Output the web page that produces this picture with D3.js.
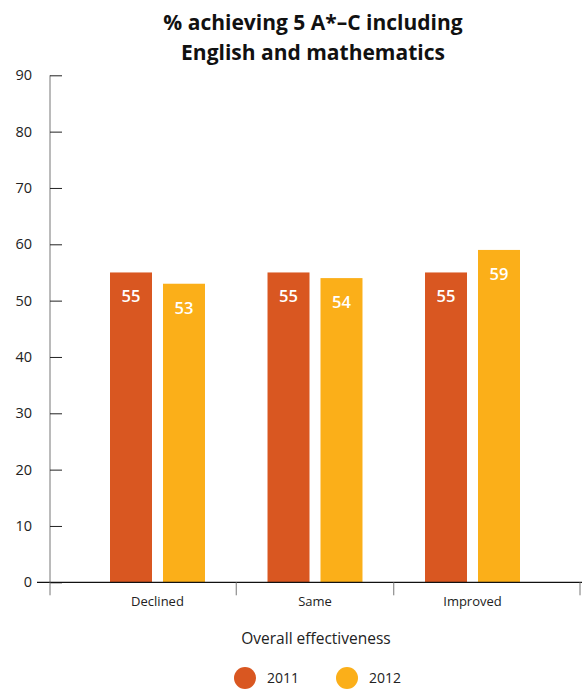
<!DOCTYPE html>
<html><head><meta charset="utf-8">
<script src="https://cdn.jsdelivr.net/npm/d3@7"></script>
<style>body{margin:0;background:#fff}svg{display:block}text{font-family:"Open Sans",sans-serif}</style>
</head><body>
<script>
const categories = ["Declined", "Same", "Improved"];
const years = ["2011", "2012"];
const values2011 = [55, 55, 55];
const values2012 = [53, 54, 59];
const labels2011 = ["55", "55", "55"];
const labels2012 = ["53", "54", "59"];
const yTicks = [0, 10, 20, 30, 40, 50, 60, 70, 80, 90];
const colors = ["#D95721", "#FBAF19"];
const titleLines = ["% achieving 5 A*\u2013C including", "English and mathematics"];
const xTitle = "Overall effectiveness";

const W = 582, H = 689;
const svg = d3.select("body").append("svg").attr("width", W).attr("height", H);

const y = d3.scaleLinear().domain([0, 90]).range([582.3, 75.3]);
const x0 = d3.scaleBand().domain(categories).range([50, 580]).paddingInner(0.397).paddingOuter(0.381);
const x1 = d3.scaleBand().domain(years).range([0, x0.bandwidth()]).paddingInner(0.2075);

// title
svg.append("g").selectAll("text").data(titleLines).join("text")
  .attr("x", 313).attr("y", (d, i) => 30 + i * 30)
  .attr("text-anchor", "middle").attr("font-size", 21).attr("font-weight", 700).attr("fill", "#111")
  .text(d => d);

// y axis
const yAxis = d3.axisLeft(y).tickValues(yTicks).tickSize(-12).tickPadding(18);
const gy = svg.append("g").attr("transform", "translate(50,0)").call(yAxis);
gy.select(".domain").attr("stroke", "#777").attr("d", `M0,${y(90)}V${y(0)}`);
gy.selectAll(".tick line").attr("stroke", "#222");
gy.selectAll(".tick text").attr("font-size", 14.5).attr("fill", "#222").attr("font-family", "Open Sans");

// bars
const data = categories.map((c, i) => ({cat: c, vals: [
  {year: years[0], v: values2011[i], lab: labels2011[i]},
  {year: years[1], v: values2012[i], lab: labels2012[i]}]}));
const groups = svg.append("g").selectAll("g").data(data).join("g")
  .attr("transform", d => `translate(${x0(d.cat)},0)`);
groups.selectAll("rect").data(d => d.vals).join("rect")
  .attr("x", d => x1(d.year)).attr("width", x1.bandwidth())
  .attr("y", d => y(d.v)).attr("height", d => y(0) - y(d.v))
  .attr("fill", (d, i) => colors[i]);
groups.selectAll("text").data(d => d.vals).join("text")
  .attr("x", d => x1(d.year) + x1.bandwidth() / 2).attr("y", d => y(d.v) + 30)
  .attr("text-anchor", "middle").attr("fill", "#fff").attr("font-size", 16.5).attr("font-weight", 600)
  .text(d => d.lab);

// x axis
svg.append("line").attr("x1", 37).attr("x2", 582).attr("y1", y(0)).attr("y2", y(0))
  .attr("stroke", "#111").attr("stroke-width", 1.2);
const bounds = [50, (x0(categories[0]) + x0.bandwidth() + x0(categories[1])) / 2,
  (x0(categories[1]) + x0.bandwidth() + x0(categories[2])) / 2, 580];
svg.append("g").selectAll("line").data(bounds).join("line")
  .attr("x1", d => d).attr("x2", d => d).attr("y1", y(0)).attr("y2", y(0) + 13)
  .attr("stroke", "#777");
svg.append("g").selectAll("text").data(categories).join("text")
  .attr("x", d => x0(d) + x0.bandwidth() / 2).attr("y", 606)
  .attr("text-anchor", "middle").attr("font-size", 13).attr("fill", "#222").text(d => d);

svg.append("text").attr("x", 316).attr("y", 644).attr("text-anchor", "middle")
  .attr("font-size", 15.5).attr("fill", "#222").text(xTitle);

// legend
const legendX = [245, 347];
const lg = svg.append("g").selectAll("g").data(years).join("g")
  .attr("transform", (d, i) => `translate(${legendX[i]},678)`);
lg.append("circle").attr("r", 11).attr("fill", (d, i) => colors[i]);
lg.append("text").attr("x", 22).attr("y", 5).attr("font-size", 14).attr("fill", "#222").text(d => d);
</script>
</body></html>
